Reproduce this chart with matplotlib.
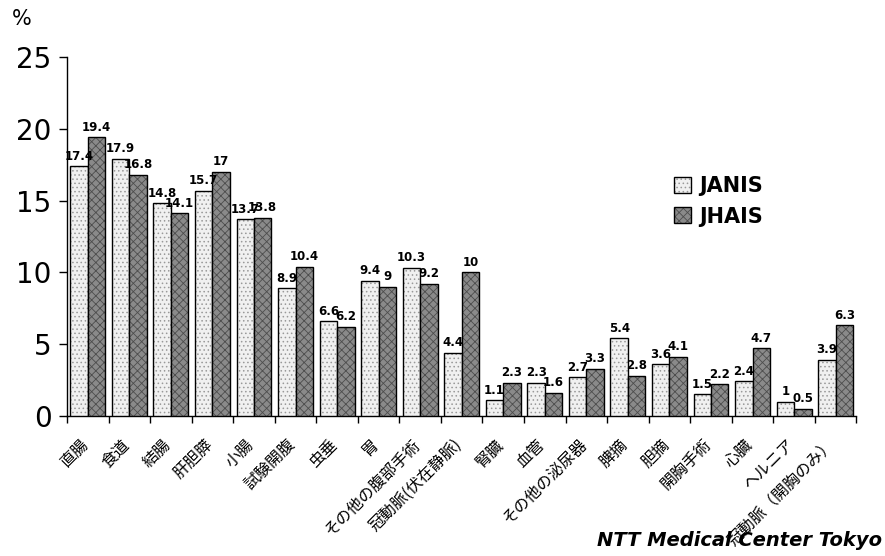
import matplotlib
matplotlib.use("Agg")
import matplotlib.pyplot as plt
import numpy as np

plt.rcParams['font.family'] = ['Noto Sans CJK JP', 'DejaVu Sans']
plt.rcParams['hatch.linewidth'] = 0.6

# data
categories = ["直腸", "食道", "結腸", "肝胆膵", "小腸", "試験開腹", "虫垂", "胃",
              "その他の腹部手術", "冠動脈(伏在静脈)", "腎臓", "血管", "その他の泌尿器",
              "脾摘", "胆摘", "開胸手術", "心臓", "ヘルニア", "冠動脈（開胸のみ）"]
janis = [17.4, 17.9, 14.8, 15.7, 13.7, 8.9, 6.6, 9.4, 10.3, 4.4,
         1.1, 2.3, 2.7, 5.4, 3.6, 1.5, 2.4, 1, 3.9]
jhais = [19.4, 16.8, 14.1, 17, 13.8, 10.4, 6.2, 9, 9.2, 10,
         2.3, 1.6, 3.3, 2.8, 4.1, 2.2, 4.7, 0.5, 6.3]
yticks = [0, 5, 10, 15, 20, 25]

fig = plt.figure(figsize=(8.85, 5.56), dpi=100)
ax = fig.add_axes([0.0757, 0.252, 0.892, 0.6455])

x = np.arange(len(categories))
w = 0.42
b1 = ax.bar(x - w / 2, janis, w, color='#f0f0f0', edgecolor='black', linewidth=1.0,
            hatch='....', label='JANIS', zorder=3)
b2 = ax.bar(x + w / 2, jhais, w, color='#8a8a8a', edgecolor='black', linewidth=1.0,
            hatch='xxxx', label='JHAIS', zorder=3)
for b in b1:
    b._hatch_color = (0.6, 0.6, 0.6, 1)
for b in b2:
    b._hatch_color = (0.3, 0.3, 0.3, 1)

def fmt(v):
    return f"{v:g}"

for bars, vals in ((b1, janis), (b2, jhais)):
    for bar, v in zip(bars, vals):
        ax.text(bar.get_x() + bar.get_width() / 2, v + 0.25, fmt(v),
                ha='center', va='bottom', fontsize=8.5, fontweight='bold',
                family='DejaVu Sans', zorder=4)

ax.set_xlim(-0.5, len(categories) - 0.5)
ax.set_ylim(0, 25)
ax.set_yticks(yticks)
ax.set_yticklabels([str(t) for t in yticks], fontsize=20, family='DejaVu Sans')
ax.tick_params(axis='y', direction='out', length=6, width=1, pad=5)

ax.set_xticks(np.arange(len(categories) + 1) - 0.5)
ax.set_xticklabels([])
ax.tick_params(axis='x', direction='out', length=5, width=1)

for i, lab in enumerate(categories):
    ax.text(i - 0.2, -1.4, lab, rotation=45, ha='right', va='top',
            rotation_mode='anchor', fontsize=11.5, transform=ax.transData)

for s in ('top', 'right'):
    ax.spines[s].set_visible(False)
ax.spines['left'].set_linewidth(1)
ax.spines['bottom'].set_linewidth(1)

ax.legend(loc='upper left', bbox_to_anchor=(0.745, 0.72), frameon=False,
          prop={'family': 'DejaVu Sans', 'weight': 'bold', 'size': 15},
          handlelength=0.8, handleheight=0.8, handletextpad=0.4, labelspacing=0.5)

fig.text(0.013, 0.965, "%", fontsize=15, family='DejaVu Sans', va='center')
fig.text(0.997, 0.01, "NTT Medical Center Tokyo", fontsize=14, fontweight='bold',
         fontstyle='italic', family='DejaVu Sans', ha='right', va='bottom')

fig.savefig("out.png", dpi=100, facecolor='white')
